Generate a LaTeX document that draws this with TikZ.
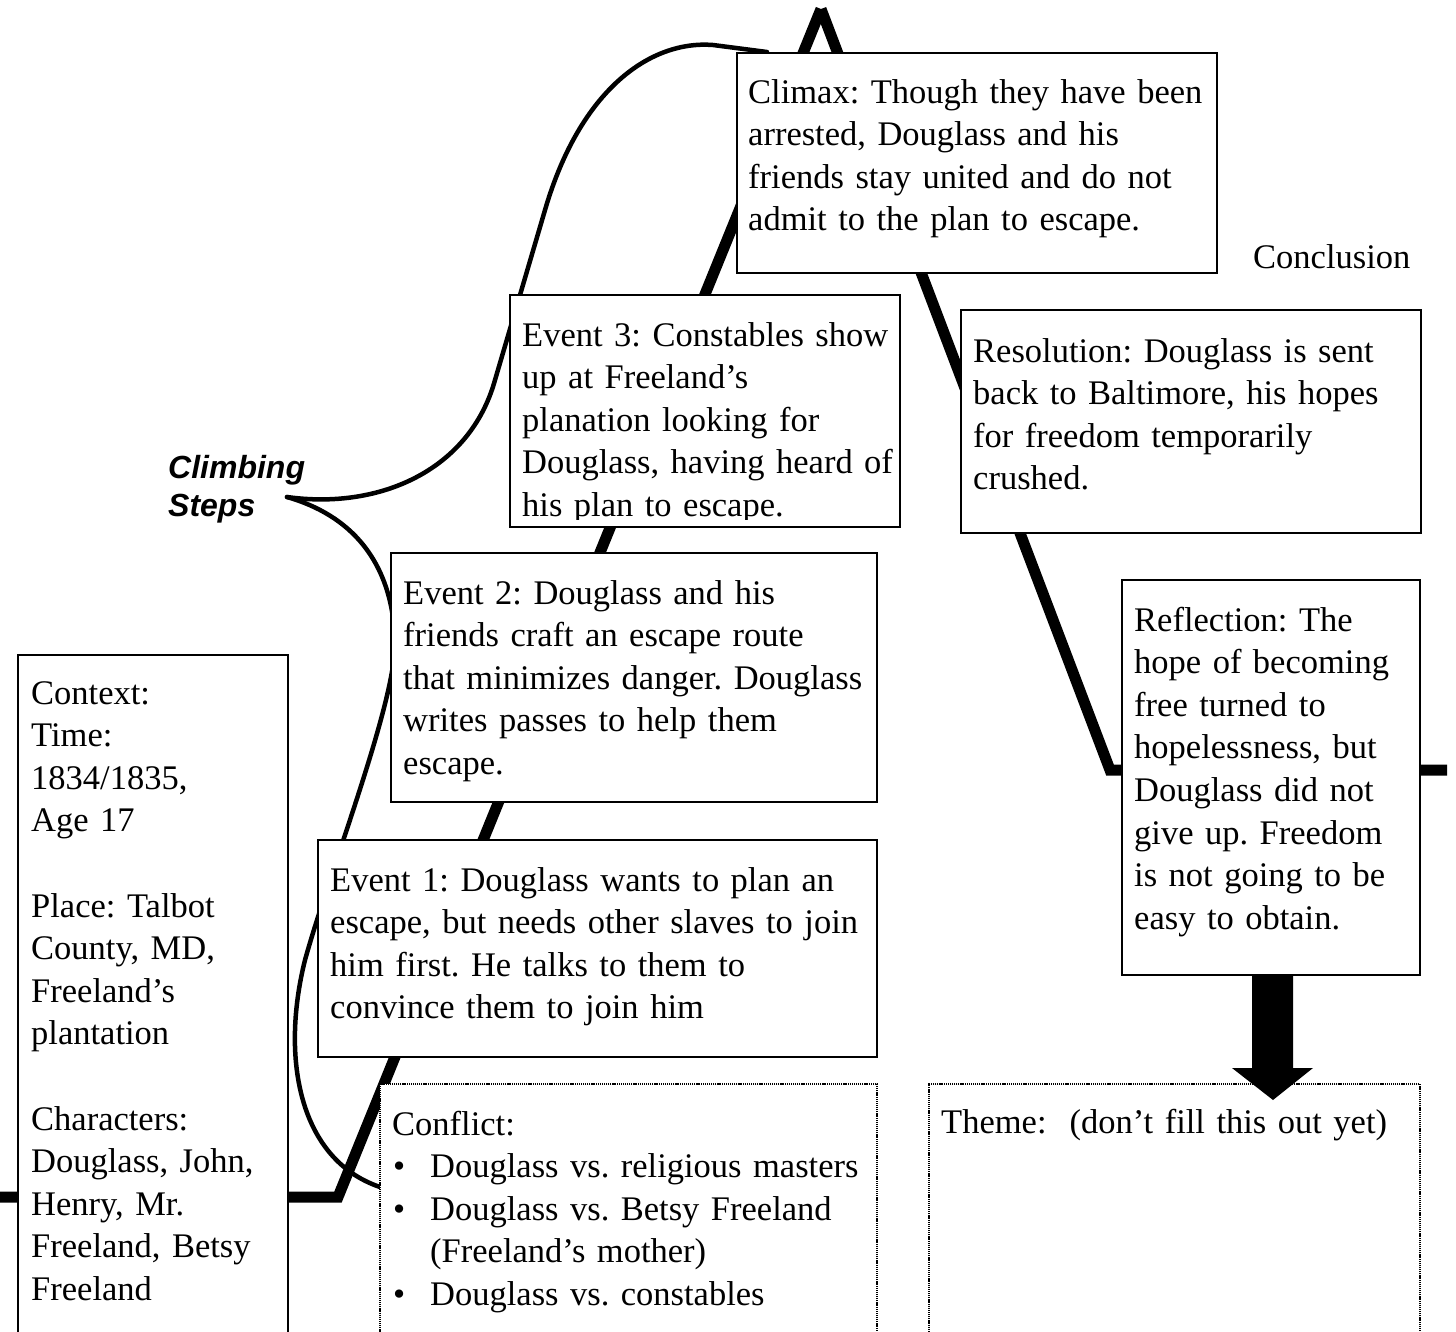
\documentclass[tikz,border=0pt]{standalone}
\usepackage{fontspec}
\setmainfont{Liberation Serif}
\setsansfont{Liberation Sans}
\frenchspacing
\begin{document}
\begin{tikzpicture}[x=1pt,y=-1pt,
  box/.style={draw, line width=2.4pt, fill=white, inner sep=0pt, outer sep=0pt, anchor=north west},
  dotbox/.style={box, line width=1.8pt, dash pattern=on 1.2pt off 0.9pt},
  txt/.style={anchor=base west, inner sep=0pt, text width=600pt, align=left, font=\fontsize{34.5}{42.6}\selectfont},
  plotline/.style={line width=11pt, line join=miter},
  brace/.style={line width=4.5pt, line cap=round}]
\useasboundingbox (0,0) rectangle (1456,1331);
\clip (0,0) rectangle (1456,1331);
% main plot line
\coordinate (p0) at (0,1197);
\coordinate (p1) at (338,1197);
\coordinate (p2) at (821,9);
\coordinate (p3) at (1110,770);
\coordinate (p4) at (1447,770);
\draw[plotline] (p0) -- (p1) -- (p2);
\draw[plotline] (p2) -- (p3) -- (p4);
% brace
\coordinate (tip) at (287,497);
\coordinate (btop) at (767,52);
\coordinate (bbot) at (380,1187);
\draw[brace] (tip) .. controls (380,510) and (470,470) .. (495,380)
  -- (545,210) .. controls (580,90) and (650,40) .. (713,45) -- (btop);
\draw[brace] (tip) .. controls (350,515) and (392,560) .. (395,640)
  .. controls (397,700) and (330,870) .. (305,960)
  .. controls (280,1060) and (300,1160) .. (bbot);
% boxes
\node[box, minimum width=270pt, minimum height=700pt] (ctx) at (18,655) {};
\node[box, minimum width=480pt, minimum height=220pt] (clx) at (737,53) {};
\node[box, minimum width=390pt, minimum height=232pt] (ev3) at (510,295) {};
\node[box, minimum width=460pt, minimum height=223pt] (res) at (961,310) {};
\node[box, minimum width=486pt, minimum height=249pt] (ev2) at (391,553) {};
\node[box, minimum width=298pt, minimum height=395pt] (ref) at (1122,580) {};
\node[box, minimum width=559pt, minimum height=217pt] (ev1) at (318,840) {};
\node[dotbox, minimum width=497pt, minimum height=300pt] (con) at (380,1084) {};
\node[dotbox, minimum width=491pt, minimum height=300pt] (thm) at (929,1084) {};
% arrow from reflection to theme
\fill (1252,975) -- (1293,975) -- (1293,1068) -- (1313,1068) -- (1273,1100)
  -- (1232,1068) -- (1252,1068) -- cycle;
% texts
\node[txt] (ctxt) at (31,704) {Context:\\Time:\\1834/1835,\\Age 17\\\mbox{}\\Place: Talbot\\County, MD,\\Freeland’s\\plantation\\\mbox{}\\Characters:\\Douglass, John,\\Henry, Mr.\\Freeland, Betsy\\Freeland};
\node[txt] (clxt) at (748,103) {Climax: Though they have been\\arrested, Douglass and his\\friends stay united and do not\\admit to the plan to escape.};
\begin{scope}
\clip (510,295) rectangle (900,519);
\node[txt] (ev3t) at (522,346) {Event 3: Constables show\\up at Freeland’s\\planation looking for\\Douglass, having heard of\\his plan to escape.};
\end{scope}
\node[txt] (rest) at (973,362) {Resolution: Douglass is sent\\back to Baltimore, his hopes\\for freedom temporarily\\crushed.};
\node[txt] (ev2t) at (403,604) {Event 2: Douglass and his\\friends craft an escape route\\that minimizes danger. Douglass\\writes passes to help them\\escape.};
\node[txt] (reft) at (1134,631) {Reflection: The\\hope of becoming\\free turned to\\hopelessness, but\\Douglass did not\\give up. Freedom\\is not going to be\\easy to obtain.};
\node[txt] (ev1t) at (330,891) {Event 1: Douglass wants to plan an\\escape, but needs other slaves to join\\him first. He talks to them to\\convince them to join him};
\node[txt] (cont) at (392,1135) {Conflict:\\\makebox[38pt][l]{\hspace{1pt}•}Douglass vs. religious masters\\\makebox[38pt][l]{\hspace{1pt}•}Douglass vs. Betsy Freeland\\\hspace*{38pt}(Freeland’s mother)\\\makebox[38pt][l]{\hspace{1pt}•}Douglass vs. constables};
\node[txt] (thmt) at (941,1133) {Theme:\ \ (don’t fill this out yet)};
\node[txt] (concl) at (1253,268) {Conclusion};
\node[anchor=base west, inner sep=0pt, text width=200pt, align=left,
  font=\sffamily\bfseries\itshape\fontsize{32}{38}\selectfont] (cs) at (168,478) {Climbing\\Steps};
\end{tikzpicture}
\end{document}
